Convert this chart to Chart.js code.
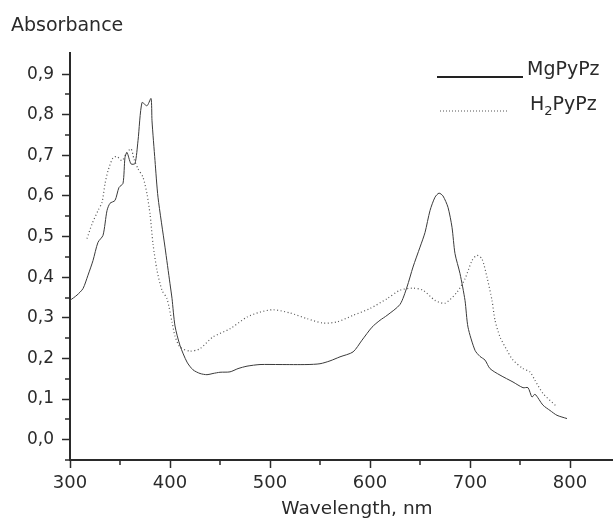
<!DOCTYPE html>
<html>
<head>
<meta charset="utf-8">
<script src="https://cdn.jsdelivr.net/npm/chart.js@4.4.1/dist/chart.umd.min.js"></script>
<style>
  html, body { margin: 0; padding: 0; background: #fff; }
  #wrap { width: 613px; height: 520px; overflow: hidden; position: relative; }
  canvas { display: block; }
</style>
</head>
<body>
<div id="wrap"><canvas id="c" width="700" height="520"></canvas></div>
<script>
// ---- Data ----
const mgWavelength = [300,307,313,318,323,328,333,337,340,345,349,353,355,357,361,365,368,372,377,381,382,385,388,395,400,402,405,410,417,423,430,437,443,450,460,468,477,490,510,537,550,560,570,583,592,602,610,617,630,637,643,650,655,660,665,669,673,678,682,685,690,695,698,705,710,715,720,730,743,753,758,762,765,773,780,787,797];
const mgAbsorbance = [0.343,0.356,0.372,0.405,0.441,0.486,0.503,0.564,0.582,0.589,0.621,0.631,0.695,0.707,0.679,0.680,0.736,0.830,0.822,0.840,0.785,0.687,0.597,0.474,0.384,0.348,0.280,0.232,0.191,0.172,0.163,0.160,0.163,0.166,0.167,0.175,0.181,0.185,0.185,0.185,0.187,0.194,0.204,0.216,0.245,0.277,0.294,0.306,0.333,0.376,0.425,0.474,0.510,0.564,0.597,0.607,0.600,0.572,0.523,0.458,0.409,0.343,0.277,0.220,0.205,0.196,0.175,0.159,0.142,0.128,0.128,0.105,0.112,0.085,0.072,0.060,0.052];

const h2Wavelength = [317,322,328,332,335,338,343,347,352,356,361,364,368,373,377,380,383,387,392,397,402,405,410,420,430,443,460,477,490,503,520,537,553,567,583,600,617,630,643,653,665,675,687,695,702,707,712,717,722,725,730,737,743,753,760,765,773,786];
const h2Absorbance = [0.495,0.531,0.564,0.584,0.630,0.662,0.694,0.697,0.687,0.703,0.716,0.691,0.667,0.646,0.605,0.556,0.482,0.417,0.368,0.347,0.290,0.255,0.228,0.218,0.224,0.253,0.273,0.302,0.314,0.320,0.312,0.298,0.287,0.290,0.306,0.323,0.347,0.368,0.373,0.368,0.343,0.336,0.363,0.396,0.441,0.454,0.445,0.400,0.343,0.294,0.253,0.220,0.196,0.175,0.167,0.146,0.114,0.083];

const xMajorTicks = [300,400,500,600,700,800];
const xMinorTicks = [350,450,550,650,750,850];
const yMajorTicks = [0,0.1,0.2,0.3,0.4,0.5,0.6,0.7,0.8,0.9];
const yMinorTicks = [-0.05,0.05,0.15,0.25,0.35,0.45,0.55,0.65,0.75,0.85];

const seriesNames = ['MgPyPz', 'H2PyPz'];
const xTitle = 'Wavelength, nm';
const yTitle = 'Absorbance';

// ---- Build ----
const mgPoints = mgWavelength.map((w, i) => ({x: w, y: mgAbsorbance[i]}));
const h2Points = h2Wavelength.map((w, i) => ({x: w, y: h2Absorbance[i]}));

const FONT = '"DejaVu Sans", "Liberation Sans", Arial, sans-serif';
const INK = '#2a2a2a';

const decor = {
  id: 'decor',
  afterDraw(chart) {
    const ctx = chart.ctx, xs = chart.scales.x, ys = chart.scales.y;
    ctx.save();
    ctx.strokeStyle = INK;
    ctx.lineWidth = 1.5;
    xMinorTicks.forEach(v => {
      const px = Math.round(xs.getPixelForValue(v));
      ctx.beginPath(); ctx.moveTo(px, ys.bottom); ctx.lineTo(px, ys.bottom + 5); ctx.stroke();
    });
    yMinorTicks.forEach(v => {
      const py = Math.round(ys.getPixelForValue(v));
      ctx.beginPath(); ctx.moveTo(xs.left, py); ctx.lineTo(xs.left - 5, py); ctx.stroke();
    });
    // y-axis title
    ctx.fillStyle = INK;
    ctx.font = '19px ' + FONT;
    ctx.textBaseline = 'alphabetic';
    ctx.textAlign = 'left';
    ctx.fillText(yTitle, 11, 31);

    // legend
    ctx.font = '19px ' + FONT;
    // MgPyPz
    ctx.strokeStyle = '#222';
    ctx.lineWidth = 2;
    ctx.setLineDash([]);
    ctx.beginPath(); ctx.moveTo(437, 77); ctx.lineTo(523, 77); ctx.stroke();
    ctx.fillText(seriesNames[0], 527, 75);
    // H2PyPz (with subscript 2)
    ctx.strokeStyle = '#555';
    ctx.lineWidth = 1.2;
    ctx.setLineDash([1, 2]);
    ctx.beginPath(); ctx.moveTo(440, 111); ctx.lineTo(508, 111); ctx.stroke();
    ctx.setLineDash([]);
    const name = seriesNames[1];
    let x = 530;
    ctx.fillText(name[0], x, 110); x += ctx.measureText(name[0]).width;
    ctx.font = '13px ' + FONT;
    ctx.fillText(name[1], x, 115); x += ctx.measureText(name[1]).width;
    ctx.font = '19px ' + FONT;
    ctx.fillText(name.slice(2), x, 110);
    ctx.restore();
  }
};

new Chart(document.getElementById('c'), {
  type: 'line',
  data: {
    datasets: [
      {
        label: seriesNames[0],
        data: mgPoints,
        borderColor: '#3a3a3a',
        borderWidth: 1,
        pointRadius: 0,
        tension: 0.25,
        fill: false
      },
      {
        label: seriesNames[1],
        data: h2Points,
        borderColor: '#555',
        borderWidth: 1.2,
        borderDash: [1, 2.5],
        pointRadius: 0,
        tension: 0.25,
        fill: false
      }
    ]
  },
  options: {
    responsive: false,
    animation: false,
    devicePixelRatio: 1,
    layout: { padding: { top: 53, right: 56, left: 0, bottom: 0 } },
    plugins: { legend: { display: false }, tooltip: { enabled: false } },
    scales: {
      x: {
        type: 'linear',
        min: 300,
        max: 874,
        afterFit(s) { s.height = 60; },
        afterBuildTicks(s) { s.ticks = xMajorTicks.map(v => ({value: v})); },
        border: { display: true, color: INK, width: 2 },
        grid: { drawOnChartArea: false, drawTicks: true, tickLength: 8, tickWidth: 1.5, tickColor: INK },
        ticks: { color: INK, font: { family: FONT, size: 18 }, padding: 5, maxRotation: 0, callback: v => String(v) },
        title: { display: true, text: xTitle, color: INK, font: { family: FONT, size: 18.5 }, padding: { top: 0, bottom: 0 } }
      },
      y: {
        type: 'linear',
        min: -0.05,
        max: 0.952,
        afterFit(s) { s.width = 70; },
        afterBuildTicks(s) { s.ticks = yMajorTicks.map(v => ({value: v})); },
        border: { display: true, color: INK, width: 2 },
        grid: { drawOnChartArea: false, drawTicks: true, tickLength: 8, tickWidth: 1.5, tickColor: INK },
        ticks: { color: INK, font: { family: FONT, size: 17 }, padding: 8, callback: v => v.toFixed(1).replace('.', ',') }
      }
    }
  },
  plugins: [decor]
});
</script>
</body>
</html>
